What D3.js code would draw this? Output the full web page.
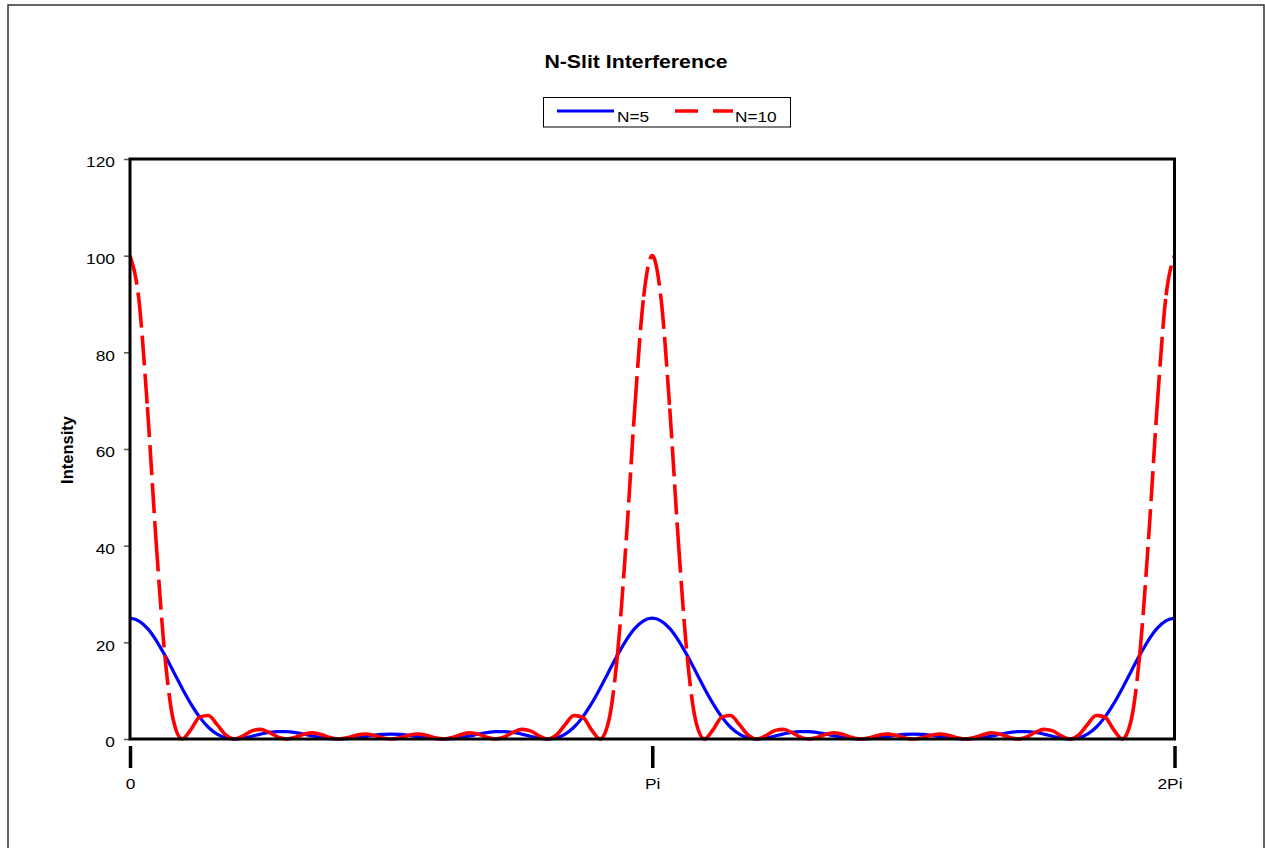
<!DOCTYPE html>
<html><head><meta charset="utf-8">
<script src="https://cdn.jsdelivr.net/npm/d3@7"></script>
<style>body{margin:0;background:#fff}svg{display:block;font-family:"Liberation Sans",Arial,sans-serif}</style>
</head><body><svg id="c" width="1265" height="848"></svg>
<script>
const chartTitle = "N-Slit Interference";
const yAxisTitle = "Intensity";
const seriesNames = ["N=5", "N=10"];
const xTickValues = [0, 180, 360];
const xTickLabels = ["0", "Pi", "2Pi"];
const yTickValues = [0, 20, 40, 60, 80, 100, 120];

const phaseDeg = [0,3,6,9,12,15,18,21,24,27,30,33,36,39,42,45,48,51,54,57,60,63,66,69,72,75,78,81,84,87,90,
93,96,99,102,105,108,111,114,117,120,123,126,129,132,135,138,141,144,147,150,153,156,159,162,165,168,171,174,177,180,
183,186,189,192,195,198,201,204,207,210,213,216,219,222,225,228,231,234,237,240,243,246,249,252,255,258,261,264,267,270,
273,276,279,282,285,288,291,294,297,300,303,306,309,312,315,318,321,324,327,330,333,336,339,342,345,348,351,354,357,360];

const intensityN5 = [25,24.46,22.88,20.43,17.35,13.93,10.47,7.27,4.53,2.43,1.00,0.23,0,0.17,0.56,1.00,1.36,1.54,1.53,1.33,1.00,0.63,0.30,0.08,0,0.07,0.26,0.51,0.76,0.94,1.00,
0.94,0.76,0.51,0.26,0.07,0,0.08,0.30,0.63,1.00,1.33,1.53,1.54,1.36,1.00,0.56,0.17,0,0.23,1.00,2.43,4.53,7.27,10.47,13.93,17.35,20.43,22.88,24.46,25,
24.46,22.88,20.43,17.35,13.93,10.47,7.27,4.53,2.43,1.00,0.23,0,0.17,0.56,1.00,1.36,1.54,1.53,1.33,1.00,0.63,0.30,0.08,0,0.07,0.26,0.51,0.76,0.94,1.00,
0.94,0.76,0.51,0.26,0.07,0,0.08,0.30,0.63,1.00,1.33,1.53,1.54,1.36,1.00,0.56,0.17,0,0.23,1.00,2.43,4.53,7.27,10.47,13.93,17.35,20.43,22.88,24.46,25];

const intensityN10 = [100,91.27,68.64,40.86,17.35,3.73,0,1.95,4.53,4.85,3.00,0.84,0,0.63,1.68,2.00,1.36,0.41,0,0.36,1.00,1.26,0.90,0.29,0,0.27,0.78,1.03,0.76,0.25,0,
0.25,0.76,1.03,0.78,0.27,0,0.29,0.90,1.26,1.00,0.36,0,0.41,1.36,2.00,1.68,0.63,0,0.84,3.00,4.85,4.53,1.95,0,3.73,17.35,40.86,68.64,91.27,100,
91.27,68.64,40.86,17.35,3.73,0,1.95,4.53,4.85,3.00,0.84,0,0.63,1.68,2.00,1.36,0.41,0,0.36,1.00,1.26,0.90,0.29,0,0.27,0.78,1.03,0.76,0.25,0,
0.25,0.76,1.03,0.78,0.27,0,0.29,0.90,1.26,1.00,0.36,0,0.41,1.36,2.00,1.68,0.63,0,0.84,3.00,4.85,4.53,1.95,0,3.73,17.35,40.86,68.64,91.27,100];

const FONT = '"Liberation Sans", Arial, sans-serif';
const SX = 1.12; // horizontal stretch of the original rendering
const svg = d3.select("#c");
const m = {left: 130, right: 1174.5, top: 159, bottom: 739};
const x = d3.scaleLinear().domain([0, 360]).range([m.left, m.right]);
const y = d3.scaleLinear().domain([0, 120]).range([m.bottom, m.top]);

// outer chart border
svg.append("rect").attr("x", 8).attr("y", 5).attr("width", 1256).attr("height", 870)
  .attr("fill", "#fff").attr("stroke", "#333").attr("stroke-width", 1.5);

// title
svg.append("text").attr("transform", "translate(636,68) scale(1.15,1)")
  .attr("text-anchor", "middle").attr("font-size", 18.5).attr("font-weight", "bold")
  .attr("font-family", FONT).text(chartTitle);

// legend
const lg = svg.append("g");
lg.append("rect").attr("x", 543.5).attr("y", 97.5).attr("width", 247).attr("height", 29.5)
  .attr("fill", "#fff").attr("stroke", "#000").attr("stroke-width", 1);
lg.append("line").attr("x1", 557).attr("x2", 614).attr("y1", 111).attr("y2", 111)
  .attr("stroke", "#0000ff").attr("stroke-width", 3.2);
lg.append("text").attr("transform", "translate(617,121.7) scale(1.15,1)").attr("font-size", 15)
  .attr("font-family", FONT).text(seriesNames[0]);
lg.append("line").attr("x1", 675).attr("x2", 733).attr("y1", 111).attr("y2", 111)
  .attr("stroke", "#ff0000").attr("stroke-width", 3.5).attr("stroke-dasharray", "23,15");
lg.append("text").attr("transform", "translate(735,121.7) scale(1.15,1)").attr("font-size", 15)
  .attr("font-family", FONT).text(seriesNames[1]);

// y axis
const ya = svg.append("g").attr("transform", `translate(${m.left},0)`)
  .call(d3.axisLeft(y).tickValues(yTickValues).tickSize(6).tickPadding(9));
ya.attr("font-family", FONT).attr("font-size", 15.5);
ya.select(".domain").remove();
ya.selectAll(".tick line").attr("stroke", "#555").attr("stroke-width", 1.5);
ya.selectAll(".tick text").attr("fill", "#000").attr("dy", "0.5em")
  .attr("x", -15 / SX).attr("transform", `scale(${SX},1)`);

// y axis title
svg.append("text").attr("transform", "translate(73,450) rotate(-90)")
  .attr("text-anchor", "middle").attr("font-size", 16.5).attr("font-weight", "bold")
  .attr("font-family", FONT).text(yAxisTitle);

// x axis (ticks below the plot)
const xa = svg.append("g").attr("transform", "translate(0,746)")
  .call(d3.axisBottom(x).tickValues(xTickValues).tickFormat((d, i) => xTickLabels[i]).tickSize(22).tickPadding(10));
xa.attr("font-family", FONT).attr("font-size", 15.5);
xa.select(".domain").remove();
xa.selectAll(".tick line").attr("stroke", "#000").attr("stroke-width", 3.5);
xa.selectAll(".tick text").attr("fill", "#000").attr("x", (d, i) => i === 2 ? -5 / SX : 0)
  .attr("transform", `scale(${SX},1)`);

// clip
svg.append("clipPath").attr("id", "plotclip").append("rect")
  .attr("x", m.left).attr("y", m.top - 3).attr("width", m.right - m.left).attr("height", m.bottom - m.top + 6);

const lineGen = d3.line().x((d, i) => x(phaseDeg[i])).y(d => y(d)).curve(d3.curveMonotoneX);

const plot = svg.append("g").attr("clip-path", "url(#plotclip)");
plot.append("path").attr("d", lineGen(intensityN5)).attr("fill", "none")
  .attr("stroke", "#0000ff").attr("stroke-width", 3.2).attr("stroke-linejoin", "round");

// dash pattern that restarts at each data segment (like the original)
function segmentDash(d, dash, gap) {
  const parts = d.split("C");
  let start = parts[0].slice(1);
  const tmp = svg.append("path").attr("fill", "none");
  const arr = [];
  for (let i = 1; i < parts.length; i++) {
    const seg = parts[i];
    tmp.attr("d", `M${start}C${seg}`);
    const L = tmp.node().getTotalLength();
    const nums = seg.split(",");
    start = nums[4] + "," + nums[5];
    let rem = L;
    while (rem > 1e-6) {
      const on = Math.min(dash, rem); rem -= on;
      if (rem <= 1e-6) { arr.push(on, 0); break; }
      const off = Math.min(gap, rem); rem -= off;
      arr.push(on, off);
    }
  }
  tmp.remove();
  return arr.join(",");
}
const redD = lineGen(intensityN10);
plot.append("path").attr("d", redD).attr("fill", "none")
  .attr("stroke", "#ff0000").attr("stroke-width", 3.6)
  .attr("stroke-dasharray", segmentDash(redD, 30, 8));

// plot frame
svg.append("rect").attr("x", m.left).attr("y", m.top).attr("width", m.right - m.left).attr("height", m.bottom - m.top)
  .attr("fill", "none").attr("stroke", "#000").attr("stroke-width", 3);
</script></body></html>
